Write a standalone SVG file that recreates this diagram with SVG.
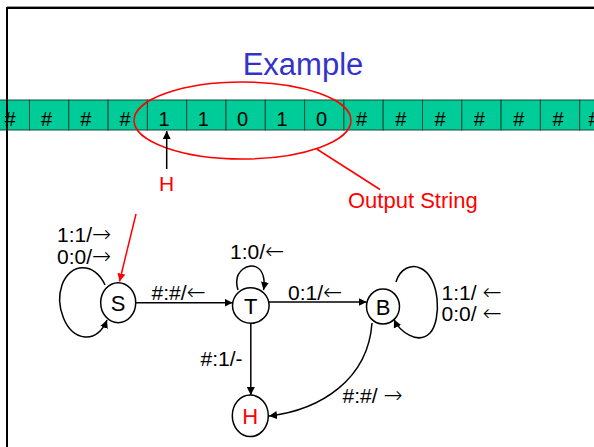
<svg xmlns="http://www.w3.org/2000/svg" width="594" height="447" viewBox="0 0 594 447">
<defs>
<marker id="ah" viewBox="0 0 10 10" refX="10" refY="5" markerWidth="8" markerHeight="8" markerUnits="userSpaceOnUse" orient="auto"><path d="M0,0 L10,5 L0,10 Z" fill="#000"/></marker>
<marker id="ahr" viewBox="0 0 10 10" refX="10" refY="5" markerWidth="8" markerHeight="8" markerUnits="userSpaceOnUse" orient="auto"><path d="M0,0 L10,5 L0,10 Z" fill="#f00"/></marker>
</defs>
<style>
text{font-family:"Liberation Sans",Arial,sans-serif}
.cell{fill:#00cc99;stroke:#1a4a3a;stroke-width:1}
.tt{font-size:20px;fill:#000;text-anchor:middle}
.st{fill:#fff;stroke:#000;stroke-width:1.5}
.sl{font-size:22px;text-anchor:middle;fill:#000}
.lb{font-size:21px;fill:#000}
.ar{font-family:"DejaVu Sans",sans-serif;font-size:23px;font-weight:200}
.e{fill:none;stroke:#000;stroke-width:1.5;marker-end:url(#ah)}
.red{fill:none;stroke:#f00;stroke-width:1.5}
</style>
<rect width="594" height="447" fill="#fff"/>
<rect x="7" y="8" width="600" height="450" fill="none" stroke="#000" stroke-width="2"/>
<line x1="7" y1="6.5" x2="594" y2="6.5" stroke="#999" stroke-width="1"/>
<text x="303" y="75" font-size="31" fill="#3333cc" text-anchor="middle">Example</text>
<g id="tape">
<rect class="cell" x="-10" y="100" width="39.5" height="30"/>
<rect class="cell" x="29.5" y="100" width="39.3" height="30"/>
<rect class="cell" x="68.8" y="100" width="39.3" height="30"/>
<rect class="cell" x="108.1" y="100" width="39.3" height="30"/>
<rect class="cell" x="147.4" y="100" width="39.3" height="30"/>
<rect class="cell" x="186.7" y="100" width="39.3" height="30"/>
<rect class="cell" x="226" y="100" width="39.3" height="30"/>
<rect class="cell" x="265.3" y="100" width="39.3" height="30"/>
<rect class="cell" x="304.6" y="100" width="39.3" height="30"/>
<rect class="cell" x="343.9" y="100" width="39.3" height="30"/>
<rect class="cell" x="383.2" y="100" width="39.3" height="30"/>
<rect class="cell" x="422.5" y="100" width="39.3" height="30"/>
<rect class="cell" x="461.8" y="100" width="39.3" height="30"/>
<rect class="cell" x="501.1" y="100" width="39.3" height="30"/>
<rect class="cell" x="540.4" y="100" width="39.3" height="30"/>
<rect class="cell" x="579.7" y="100" width="39.3" height="30"/>
<line x1="7" y1="100" x2="7" y2="130" stroke="#000" stroke-width="2"/>
<text class="tt" x="10" y="126">#</text>
<text class="tt" x="46.5" y="126">#</text>
<text class="tt" x="85.8" y="126">#</text>
<text class="tt" x="125.1" y="126">#</text>
<text class="tt" x="164" y="126">1</text>
<text class="tt" x="203.3" y="126">1</text>
<text class="tt" x="242.6" y="126">0</text>
<text class="tt" x="282" y="126">1</text>
<text class="tt" x="321.5" y="126">0</text>
<text class="tt" x="361.5" y="126">#</text>
<text class="tt" x="400.8" y="126">#</text>
<text class="tt" x="440.1" y="126">#</text>
<text class="tt" x="479.4" y="126">#</text>
<text class="tt" x="518.7" y="126">#</text>
<text class="tt" x="558" y="126">#</text>
<text class="tt" x="594" y="126">#</text>
</g>
<g id="output-annotation">
<ellipse class="red" cx="242.5" cy="120.5" rx="108.5" ry="38.5"/>
<line class="red" x1="316.7" y1="149" x2="380" y2="189.5"/>
<text x="348" y="208" font-size="22" fill="#f00">Output String</text>
</g>
<g id="head">
<line class="e" x1="166.7" y1="169" x2="166.7" y2="131"/>
<text x="166.7" y="191" font-size="21" fill="#f00" text-anchor="middle">H</text>
</g>
<g id="connectors">
<line x1="136" y1="214" x2="119.5" y2="281.5" stroke="#f00" stroke-width="1.5" marker-end="url(#ahr)"/>
<path class="e" d="M105,285 C95,262 70,262 62,285 C55,305 65,335 85,337 C95,338 103,330 107,320"/>
<line class="e" x1="135.7" y1="302.7" x2="232.5" y2="302.7"/>
<path class="e" d="M238,290 C232,270 250,262 258,268 C264,272 265,282 263.5,290"/>
<line class="e" x1="269" y1="302" x2="366.7" y2="302"/>
<path class="e" d="M396,282 C400,268 412,264 420,268 C440,276 442,320 430,333 C418,345 400,332 394,319.5"/>
<line class="e" x1="250.8" y1="323" x2="250.8" y2="395"/>
<path class="e" d="M372,323 C368,380 320,410 269,416"/>
</g>
<g id="labels">
<text class="lb" x="57" y="242">1:1/<tspan class="ar">→</tspan></text>
<text class="lb" x="57" y="263.5">0:0/<tspan class="ar">→</tspan></text>
<text class="lb" x="151.5" y="299.5">#:#/<tspan class="ar">←</tspan></text>
<text class="lb" x="230" y="258.5">1:0/<tspan class="ar">←</tspan></text>
<text class="lb" x="288" y="299.5">0:1/<tspan class="ar">←</tspan></text>
<text class="lb" x="441.5" y="300" font-size="20">1:1/ <tspan class="ar">←</tspan></text>
<text class="lb" x="441.5" y="320.5" font-size="20">0:0/ <tspan class="ar">←</tspan></text>
<text class="lb" x="200.5" y="366">#:1/-</text>
<text class="lb" x="342.5" y="403">#:#/ <tspan class="ar">→</tspan></text>
</g>
<g id="S"><ellipse class="st" cx="118.2" cy="302.7" rx="17.5" ry="20"/><text class="sl" x="118.2" y="310.5">S</text></g>
<g id="T"><ellipse class="st" cx="250.8" cy="305.5" rx="18.3" ry="17.8"/><text class="sl" x="250.8" y="313.5">T</text></g>
<g id="B"><ellipse class="st" cx="383" cy="306.5" rx="16.5" ry="17.5"/><text class="sl" x="383" y="314.5">B</text></g>
<g id="H"><ellipse class="st" cx="250.3" cy="415.8" rx="18" ry="20.8"/><text class="sl" x="250.3" y="424" style="fill:#f00">H</text></g>
</svg>
